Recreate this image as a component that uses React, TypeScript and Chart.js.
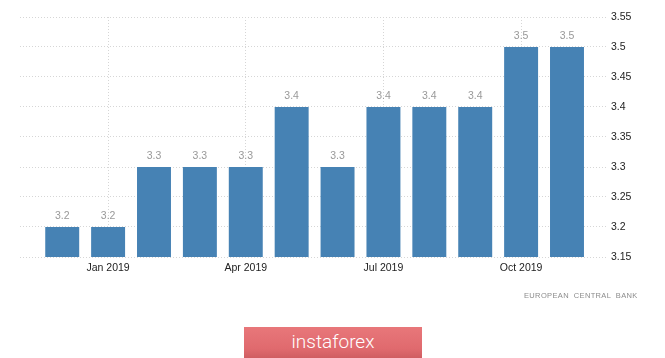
import React, { useEffect, useRef } from "react";
import { Chart, registerables } from "chart.js";

Chart.register(...registerables);

const categories = [
  "Dec 2018", "Jan 2019", "Feb 2019", "Mar 2019", "Apr 2019", "May 2019",
  "Jun 2019", "Jul 2019", "Aug 2019", "Sep 2019", "Oct 2019", "Nov 2019",
];
const values = [3.2, 3.2, 3.3, 3.3, 3.3, 3.4, 3.3, 3.4, 3.4, 3.4, 3.5, 3.5];
const xTickIndices = [1, 4, 7, 10];
const yTicks = [3.15, 3.2, 3.25, 3.3, 3.35, 3.4, 3.45, 3.5, 3.55];

const FONT = "'Liberation Sans', Arial, sans-serif";

const valueLabels = {
  id: "valueLabels",
  afterDatasetsDraw(chart: any) {
    const ctx = chart.ctx;
    const meta = chart.getDatasetMeta(0);
    ctx.save();
    ctx.font = `10.5px ${FONT}`;
    ctx.fillStyle = "#999999";
    ctx.textAlign = "center";
    ctx.textBaseline = "bottom";
    meta.data.forEach((el: any, i: number) => {
      ctx.fillText(String(values[i]), el.x, el.y - 6);
    });
    ctx.restore();
  },
};

export default function App() {
  const ref = useRef<HTMLCanvasElement | null>(null);

  useEffect(() => {
    if (!ref.current) return;
    const chart = new Chart(ref.current, {
      type: "bar",
      data: {
        datasets: [
          {
            data: values.map((v, i) => ({ x: i, y: v })),
            backgroundColor: "#4682b4",
            borderWidth: 0,
            barPercentage: 0.74,
            categoryPercentage: 1,
          },
        ],
      },
      options: {
        responsive: false,
        animation: false,
        layout: { padding: { left: 20, top: 17, right: 0, bottom: 0 } },
        plugins: {
          legend: { display: false },
          tooltip: { enabled: false },
        },
        scales: {
          x: {
            type: "linear",
            offset: false,
            min: -0.92,
            max: 11.85,
            afterBuildTicks: (s: any) => {
              s.ticks = xTickIndices.map((v) => ({ value: v }));
            },
            afterFit: (s: any) => {
              s.height = 101;
            },
            ticks: {
              callback: (v: any) => categories[v as number],
              font: { family: FONT, size: 10.5 },
              color: "#222222",
              padding: 5,
              autoSkip: false,
              maxRotation: 0,
            },
            grid: { color: "#d6d6d6", drawTicks: false, offset: false },
            border: { display: false, dash: [1, 2] },
          },
          y: {
            position: "right",
            min: 3.15,
            max: 3.55,
            afterBuildTicks: (s: any) => {
              s.ticks = yTicks.map((v) => ({ value: v }));
            },
            afterFit: (s: any) => {
              s.width = 59;
            },
            ticks: {
              callback: (v: any) => String(v),
              font: { family: FONT, size: 10.5 },
              color: "#222222",
              padding: 5,
            },
            grid: { color: "#d6d6d6", drawTicks: false },
            border: { display: false, dash: [1, 2] },
          },
        },
      },
      plugins: [valueLabels],
    } as any);
    return () => chart.destroy();
  }, []);

  return (
    <div style={{ position: "absolute", left: 0, top: 0, width: 665, height: 358, background: "#fff", overflow: "hidden" }}>
      <canvas ref={ref} width={665} height={358} style={{ display: "block" }} />
      <div
        style={{
          position: "absolute",
          left: 524,
          top: 291,
          fontFamily: FONT,
          fontSize: 7.5,
          letterSpacing: 0.35,
          color: "#8c8c8c",
          whiteSpace: "pre",
        }}
      >
        {"EUROPEAN  CENTRAL  BANK"}
      </div>
      <div
        style={{
          position: "absolute",
          left: 244,
          top: 327,
          width: 178,
          height: 31,
          background: "linear-gradient(#e8777a, #e06a6e 70%, #cf5d61)",
          color: "#ffffff",
          fontFamily: "Roboto, 'Liberation Sans', sans-serif",
          fontWeight: 300,
          fontSize: 19,
          lineHeight: "29px",
          textAlign: "center",
        }}
      >
        instaforex
      </div>
    </div>
  );
}
